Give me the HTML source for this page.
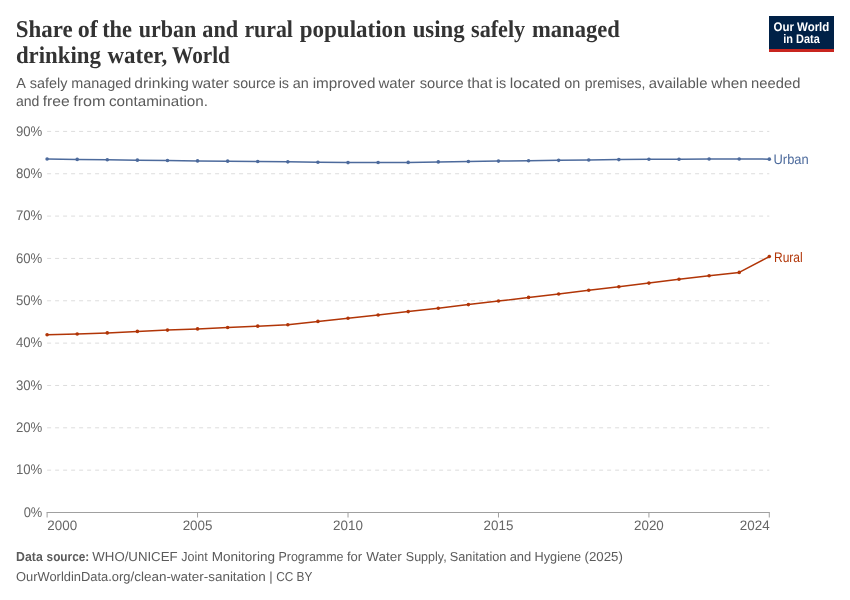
<!DOCTYPE html>
<html lang="en"><head><meta charset="utf-8"><title>Share of the urban and rural population using safely managed drinking water, World</title>
<style>html,body{margin:0;padding:0;background:#fff}body{width:850px;height:600px;overflow:hidden}svg{display:block}</style></head><body>
<svg width="850" height="600" viewBox="0 0 850 600" text-rendering="geometricPrecision">
<rect width="850" height="600" fill="#fff"/>
<text y="37" font-family='"Liberation Serif", "DejaVu Serif", serif' font-size="24" font-weight="bold" fill="#333"><tspan x="15.68" textLength="56.91" lengthAdjust="spacingAndGlyphs">Share</tspan> <tspan x="77.83">of</tspan> <tspan x="102.14" textLength="29.94" lengthAdjust="spacingAndGlyphs">the</tspan> <tspan x="138.67" textLength="57.66" lengthAdjust="spacingAndGlyphs">urban</tspan> <tspan x="202.29" textLength="35.97" lengthAdjust="spacingAndGlyphs">and</tspan> <tspan x="244.42" textLength="48.54" lengthAdjust="spacingAndGlyphs">rural</tspan> <tspan x="299.71" textLength="106.23" lengthAdjust="spacingAndGlyphs">population</tspan> <tspan x="412.66" textLength="51.95" lengthAdjust="spacingAndGlyphs">using</tspan> <tspan x="471.03" textLength="54.17" lengthAdjust="spacingAndGlyphs">safely</tspan> <tspan x="532.00" textLength="87.85" lengthAdjust="spacingAndGlyphs">managed</tspan></text>
<text y="63" font-family='"Liberation Serif", "DejaVu Serif", serif' font-size="24" font-weight="bold" fill="#333"><tspan x="15.88" textLength="85.05" lengthAdjust="spacingAndGlyphs">drinking</tspan> <tspan x="107.44" textLength="59.73" lengthAdjust="spacingAndGlyphs">water,</tspan> <tspan x="172.10" textLength="57.73" lengthAdjust="spacingAndGlyphs">World</tspan></text>
<text y="87.9" font-family='"Liberation Sans", "DejaVu Sans", sans-serif' font-size="14.4" font-weight="normal" fill="#5b5b5b"><tspan x="16.20">A</tspan> <tspan x="29.80" textLength="37.72" lengthAdjust="spacingAndGlyphs">safely</tspan> <tspan x="71.15" textLength="60.07" lengthAdjust="spacingAndGlyphs">managed</tspan> <tspan x="134.35" textLength="54.70" lengthAdjust="spacingAndGlyphs">drinking</tspan> <tspan x="191.90" textLength="36.92" lengthAdjust="spacingAndGlyphs">water</tspan> <tspan x="233.11" textLength="42.61" lengthAdjust="spacingAndGlyphs">source</tspan> <tspan x="278.63">is</tspan> <tspan x="292.76">an</tspan> <tspan x="312.68" textLength="62.80" lengthAdjust="spacingAndGlyphs">improved</tspan> <tspan x="378.40" textLength="36.72" lengthAdjust="spacingAndGlyphs">water</tspan> <tspan x="419.70" textLength="44.00" lengthAdjust="spacingAndGlyphs">source</tspan> <tspan x="467.27" textLength="25.13" lengthAdjust="spacingAndGlyphs">that</tspan> <tspan x="495.83">is</tspan> <tspan x="509.85" textLength="50.76" lengthAdjust="spacingAndGlyphs">located</tspan> <tspan x="564.31">on</tspan> <tspan x="584.70" textLength="60.76" lengthAdjust="spacingAndGlyphs">premises,</tspan> <tspan x="648.78" textLength="58.68" lengthAdjust="spacingAndGlyphs">available</tspan> <tspan x="711.20" textLength="36.67" lengthAdjust="spacingAndGlyphs">when</tspan> <tspan x="751.13" textLength="49.22" lengthAdjust="spacingAndGlyphs">needed</tspan></text>
<text y="106" font-family='"Liberation Sans", "DejaVu Sans", sans-serif' font-size="14.4" font-weight="normal" fill="#5b5b5b"><tspan x="15.91" textLength="23.49" lengthAdjust="spacingAndGlyphs">and</tspan> <tspan x="42.68" textLength="27.01" lengthAdjust="spacingAndGlyphs">free</tspan> <tspan x="73.17" textLength="32.39" lengthAdjust="spacingAndGlyphs">from</tspan> <tspan x="108.96" textLength="99.02" lengthAdjust="spacingAndGlyphs">contamination.</tspan></text>
<rect x="769" y="16" width="65" height="36" fill="#002147"/><rect x="769" y="49" width="65" height="3" fill="#c8251f"/>
<text x="801.4" y="30.5" font-family='"Liberation Sans", "DejaVu Sans", sans-serif' font-size="12.4" font-weight="bold" fill="#fff" text-anchor="middle" textLength="55.8" lengthAdjust="spacingAndGlyphs">Our World</text>
<text x="801.5" y="42.9" font-family='"Liberation Sans", "DejaVu Sans", sans-serif' font-size="12.4" font-weight="bold" fill="#fff" text-anchor="middle" textLength="36.5" lengthAdjust="spacingAndGlyphs">in Data</text>
<line x1="47.1" x2="769.3" y1="470.16" y2="470.16" stroke="#ddd" stroke-width="1" stroke-dasharray="4,4"/>
<line x1="47.1" x2="769.3" y1="427.81" y2="427.81" stroke="#ddd" stroke-width="1" stroke-dasharray="4,4"/>
<line x1="47.1" x2="769.3" y1="385.47" y2="385.47" stroke="#ddd" stroke-width="1" stroke-dasharray="4,4"/>
<line x1="47.1" x2="769.3" y1="343.12" y2="343.12" stroke="#ddd" stroke-width="1" stroke-dasharray="4,4"/>
<line x1="47.1" x2="769.3" y1="300.78" y2="300.78" stroke="#ddd" stroke-width="1" stroke-dasharray="4,4"/>
<line x1="47.1" x2="769.3" y1="258.43" y2="258.43" stroke="#ddd" stroke-width="1" stroke-dasharray="4,4"/>
<line x1="47.1" x2="769.3" y1="216.09" y2="216.09" stroke="#ddd" stroke-width="1" stroke-dasharray="4,4"/>
<line x1="47.1" x2="769.3" y1="173.74" y2="173.74" stroke="#ddd" stroke-width="1" stroke-dasharray="4,4"/>
<line x1="47.1" x2="769.3" y1="131.40" y2="131.40" stroke="#ddd" stroke-width="1" stroke-dasharray="4,4"/>
<text x="42.3" y="516.70" font-family='"Liberation Sans", "DejaVu Sans", sans-serif' font-size="13.9" font-weight="normal" fill="#666" text-anchor="end" textLength="18.6" lengthAdjust="spacingAndGlyphs">0%</text>
<text x="42.3" y="474.36" font-family='"Liberation Sans", "DejaVu Sans", sans-serif' font-size="13.9" font-weight="normal" fill="#666" text-anchor="end" textLength="26.4" lengthAdjust="spacingAndGlyphs">10%</text>
<text x="42.3" y="432.01" font-family='"Liberation Sans", "DejaVu Sans", sans-serif' font-size="13.9" font-weight="normal" fill="#666" text-anchor="end" textLength="26.4" lengthAdjust="spacingAndGlyphs">20%</text>
<text x="42.3" y="389.67" font-family='"Liberation Sans", "DejaVu Sans", sans-serif' font-size="13.9" font-weight="normal" fill="#666" text-anchor="end" textLength="26.4" lengthAdjust="spacingAndGlyphs">30%</text>
<text x="42.3" y="347.32" font-family='"Liberation Sans", "DejaVu Sans", sans-serif' font-size="13.9" font-weight="normal" fill="#666" text-anchor="end" textLength="26.4" lengthAdjust="spacingAndGlyphs">40%</text>
<text x="42.3" y="304.98" font-family='"Liberation Sans", "DejaVu Sans", sans-serif' font-size="13.9" font-weight="normal" fill="#666" text-anchor="end" textLength="26.4" lengthAdjust="spacingAndGlyphs">50%</text>
<text x="42.3" y="262.63" font-family='"Liberation Sans", "DejaVu Sans", sans-serif' font-size="13.9" font-weight="normal" fill="#666" text-anchor="end" textLength="26.4" lengthAdjust="spacingAndGlyphs">60%</text>
<text x="42.3" y="220.29" font-family='"Liberation Sans", "DejaVu Sans", sans-serif' font-size="13.9" font-weight="normal" fill="#666" text-anchor="end" textLength="26.4" lengthAdjust="spacingAndGlyphs">70%</text>
<text x="42.3" y="177.94" font-family='"Liberation Sans", "DejaVu Sans", sans-serif' font-size="13.9" font-weight="normal" fill="#666" text-anchor="end" textLength="26.4" lengthAdjust="spacingAndGlyphs">80%</text>
<text x="42.3" y="135.60" font-family='"Liberation Sans", "DejaVu Sans", sans-serif' font-size="13.9" font-weight="normal" fill="#666" text-anchor="end" textLength="26.4" lengthAdjust="spacingAndGlyphs">90%</text>
<line x1="46.6" x2="769.8" y1="512.5" y2="512.5" stroke="#a0a0a0" stroke-width="1"/>
<line x1="47.10" x2="47.10" y1="512.5" y2="517.5" stroke="#a0a0a0" stroke-width="1"/>
<text x="47.3" y="530.1" font-family='"Liberation Sans", "DejaVu Sans", sans-serif' font-size="13.7" font-weight="normal" fill="#666" text-anchor="start" textLength="29.8" lengthAdjust="spacingAndGlyphs">2000</text>
<line x1="197.56" x2="197.56" y1="512.5" y2="517.5" stroke="#a0a0a0" stroke-width="1"/>
<text x="197.56" y="530.1" font-family='"Liberation Sans", "DejaVu Sans", sans-serif' font-size="13.7" font-weight="normal" fill="#666" text-anchor="middle" textLength="29.8" lengthAdjust="spacingAndGlyphs">2005</text>
<line x1="348.02" x2="348.02" y1="512.5" y2="517.5" stroke="#a0a0a0" stroke-width="1"/>
<text x="348.02" y="530.1" font-family='"Liberation Sans", "DejaVu Sans", sans-serif' font-size="13.7" font-weight="normal" fill="#666" text-anchor="middle" textLength="29.8" lengthAdjust="spacingAndGlyphs">2010</text>
<line x1="498.47" x2="498.47" y1="512.5" y2="517.5" stroke="#a0a0a0" stroke-width="1"/>
<text x="498.47" y="530.1" font-family='"Liberation Sans", "DejaVu Sans", sans-serif' font-size="13.7" font-weight="normal" fill="#666" text-anchor="middle" textLength="29.8" lengthAdjust="spacingAndGlyphs">2015</text>
<line x1="648.93" x2="648.93" y1="512.5" y2="517.5" stroke="#a0a0a0" stroke-width="1"/>
<text x="648.93" y="530.1" font-family='"Liberation Sans", "DejaVu Sans", sans-serif' font-size="13.7" font-weight="normal" fill="#666" text-anchor="middle" textLength="29.8" lengthAdjust="spacingAndGlyphs">2020</text>
<line x1="769.30" x2="769.30" y1="512.5" y2="517.5" stroke="#a0a0a0" stroke-width="1"/>
<text x="769.6" y="530.1" font-family='"Liberation Sans", "DejaVu Sans", sans-serif' font-size="13.7" font-weight="normal" fill="#666" text-anchor="end" textLength="29.8" lengthAdjust="spacingAndGlyphs">2024</text>
<polyline points="47.10,159.04 77.19,159.40 107.28,159.80 137.38,160.17 167.47,160.55 197.56,160.90 227.65,161.15 257.74,161.50 287.83,161.86 317.93,162.20 348.02,162.60 378.11,162.45 408.20,162.40 438.29,161.90 468.38,161.50 498.47,161.10 528.57,160.70 558.66,160.36 588.75,160.00 618.84,159.60 648.93,159.30 679.02,159.20 709.12,159.05 739.21,159.00 769.30,159.15" fill="none" stroke="#4c6a9c" stroke-width="1.5" stroke-linejoin="round" stroke-linecap="round"/><circle cx="47.10" cy="159.04" r="1.8" fill="#4c6a9c"/><circle cx="77.19" cy="159.40" r="1.8" fill="#4c6a9c"/><circle cx="107.28" cy="159.80" r="1.8" fill="#4c6a9c"/><circle cx="137.38" cy="160.17" r="1.8" fill="#4c6a9c"/><circle cx="167.47" cy="160.55" r="1.8" fill="#4c6a9c"/><circle cx="197.56" cy="160.90" r="1.8" fill="#4c6a9c"/><circle cx="227.65" cy="161.15" r="1.8" fill="#4c6a9c"/><circle cx="257.74" cy="161.50" r="1.8" fill="#4c6a9c"/><circle cx="287.83" cy="161.86" r="1.8" fill="#4c6a9c"/><circle cx="317.93" cy="162.20" r="1.8" fill="#4c6a9c"/><circle cx="348.02" cy="162.60" r="1.8" fill="#4c6a9c"/><circle cx="378.11" cy="162.45" r="1.8" fill="#4c6a9c"/><circle cx="408.20" cy="162.40" r="1.8" fill="#4c6a9c"/><circle cx="438.29" cy="161.90" r="1.8" fill="#4c6a9c"/><circle cx="468.38" cy="161.50" r="1.8" fill="#4c6a9c"/><circle cx="498.47" cy="161.10" r="1.8" fill="#4c6a9c"/><circle cx="528.57" cy="160.70" r="1.8" fill="#4c6a9c"/><circle cx="558.66" cy="160.36" r="1.8" fill="#4c6a9c"/><circle cx="588.75" cy="160.00" r="1.8" fill="#4c6a9c"/><circle cx="618.84" cy="159.60" r="1.8" fill="#4c6a9c"/><circle cx="648.93" cy="159.30" r="1.8" fill="#4c6a9c"/><circle cx="679.02" cy="159.20" r="1.8" fill="#4c6a9c"/><circle cx="709.12" cy="159.05" r="1.8" fill="#4c6a9c"/><circle cx="739.21" cy="159.00" r="1.8" fill="#4c6a9c"/><circle cx="769.30" cy="159.15" r="1.8" fill="#4c6a9c"/>
<polyline points="47.10,334.80 77.19,334.07 107.28,332.90 137.38,331.40 167.47,330.10 197.56,328.90 227.65,327.46 257.74,326.14 287.83,324.80 317.93,321.40 348.02,318.20 378.11,315.00 408.20,311.60 438.29,308.20 468.38,304.60 498.47,301.03 528.57,297.40 558.66,294.05 588.75,290.30 618.84,286.70 648.93,283.10 679.02,279.30 709.12,275.80 739.21,272.40 769.30,256.56" fill="none" stroke="#b13507" stroke-width="1.5" stroke-linejoin="round" stroke-linecap="round"/><circle cx="47.10" cy="334.80" r="1.8" fill="#b13507"/><circle cx="77.19" cy="334.07" r="1.8" fill="#b13507"/><circle cx="107.28" cy="332.90" r="1.8" fill="#b13507"/><circle cx="137.38" cy="331.40" r="1.8" fill="#b13507"/><circle cx="167.47" cy="330.10" r="1.8" fill="#b13507"/><circle cx="197.56" cy="328.90" r="1.8" fill="#b13507"/><circle cx="227.65" cy="327.46" r="1.8" fill="#b13507"/><circle cx="257.74" cy="326.14" r="1.8" fill="#b13507"/><circle cx="287.83" cy="324.80" r="1.8" fill="#b13507"/><circle cx="317.93" cy="321.40" r="1.8" fill="#b13507"/><circle cx="348.02" cy="318.20" r="1.8" fill="#b13507"/><circle cx="378.11" cy="315.00" r="1.8" fill="#b13507"/><circle cx="408.20" cy="311.60" r="1.8" fill="#b13507"/><circle cx="438.29" cy="308.20" r="1.8" fill="#b13507"/><circle cx="468.38" cy="304.60" r="1.8" fill="#b13507"/><circle cx="498.47" cy="301.03" r="1.8" fill="#b13507"/><circle cx="528.57" cy="297.40" r="1.8" fill="#b13507"/><circle cx="558.66" cy="294.05" r="1.8" fill="#b13507"/><circle cx="588.75" cy="290.30" r="1.8" fill="#b13507"/><circle cx="618.84" cy="286.70" r="1.8" fill="#b13507"/><circle cx="648.93" cy="283.10" r="1.8" fill="#b13507"/><circle cx="679.02" cy="279.30" r="1.8" fill="#b13507"/><circle cx="709.12" cy="275.80" r="1.8" fill="#b13507"/><circle cx="739.21" cy="272.40" r="1.8" fill="#b13507"/><circle cx="769.30" cy="256.56" r="1.8" fill="#b13507"/>
<text x="773.5" y="164.0" font-family='"Liberation Sans", "DejaVu Sans", sans-serif' font-size="13.9" font-weight="normal" fill="#4c6a9c" text-anchor="start" textLength="35.2" lengthAdjust="spacingAndGlyphs">Urban</text>
<text x="774.0" y="262.2" font-family='"Liberation Sans", "DejaVu Sans", sans-serif' font-size="13.9" font-weight="normal" fill="#b13507" text-anchor="start" textLength="28.7" lengthAdjust="spacingAndGlyphs">Rural</text>
<text y="560.6" font-family='"Liberation Sans", "DejaVu Sans", sans-serif' font-size="13" font-weight="bold" fill="#5b5b5b"><tspan x="16.08" textLength="26.64" lengthAdjust="spacingAndGlyphs">Data</tspan> <tspan x="46.59" textLength="42.64" lengthAdjust="spacingAndGlyphs">source:</tspan></text>
<text y="560.6" font-family='"Liberation Sans", "DejaVu Sans", sans-serif' font-size="13" font-weight="normal" fill="#5b5b5b"><tspan x="92.35" textLength="85.23" lengthAdjust="spacingAndGlyphs">WHO/UNICEF</tspan> <tspan x="181.21" textLength="26.48" lengthAdjust="spacingAndGlyphs">Joint</tspan> <tspan x="211.69" textLength="63.28" lengthAdjust="spacingAndGlyphs">Monitoring</tspan> <tspan x="278.48" textLength="65.07" lengthAdjust="spacingAndGlyphs">Programme</tspan> <tspan x="346.92" textLength="15.20" lengthAdjust="spacingAndGlyphs">for</tspan> <tspan x="366.25" textLength="35.48" lengthAdjust="spacingAndGlyphs">Water</tspan> <tspan x="405.84" textLength="40.79" lengthAdjust="spacingAndGlyphs">Supply,</tspan> <tspan x="449.73" textLength="56.70" lengthAdjust="spacingAndGlyphs">Sanitation</tspan> <tspan x="509.66" textLength="21.57" lengthAdjust="spacingAndGlyphs">and</tspan> <tspan x="534.56" textLength="46.60" lengthAdjust="spacingAndGlyphs">Hygiene</tspan> <tspan x="584.48" textLength="38.35" lengthAdjust="spacingAndGlyphs">(2025)</tspan></text>
<text y="580.6" font-family='"Liberation Sans", "DejaVu Sans", sans-serif' font-size="13" font-weight="normal" fill="#5b5b5b"><tspan x="15.99" textLength="114.43" lengthAdjust="spacingAndGlyphs">OurWorldinData.org</tspan> <tspan x="130.50" textLength="135.27" lengthAdjust="spacingAndGlyphs">/clean-water-sanitation</tspan> <tspan x="269.16">|</tspan> <tspan x="276.20" textLength="36.26" lengthAdjust="spacingAndGlyphs">CC BY</tspan></text>
</svg></body></html>
